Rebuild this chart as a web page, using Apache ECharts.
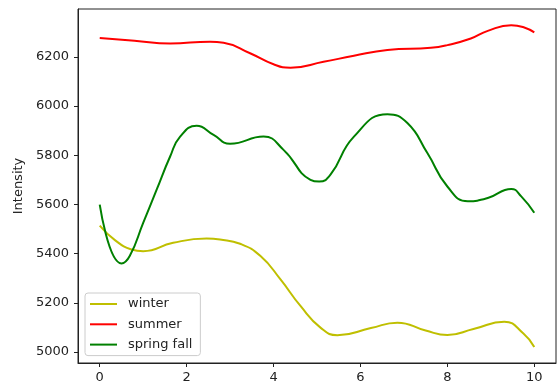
<!DOCTYPE html>
<html>
<head>
<meta charset="utf-8">
<script src="https://cdn.jsdelivr.net/npm/echarts@6/dist/echarts.min.js"></script>
<style>html,body{margin:0;padding:0;background:#fff;}#c{width:557px;height:390px;}</style>
</head>
<body>
<div id="c"></div>
<script>
const winterX = [0,0.35,0.73,1.0,1.69,2.46,2.77,3.23,3.7,4.16,4.62,5.08,5.47,6.24,6.85,7.5,8.0,8.6,9.31,9.75,10];
const winterY = [5514,5455,5417,5410,5444,5461,5457,5440,5390,5295,5187,5099,5068,5097,5119,5087,5069,5093,5123,5075,5020];
const summerX = [0,0.8,1.62,2.54,2.85,3.46,4.0,4.39,5.15,5.85,6.62,7.62,8.0,8.54,8.93,9.47,9.77,10];
const summerY = [6277,6266,6255,6262,6258,6215,6170,6156,6180,6205,6228,6237,6248,6275,6306,6329,6320,6300];
const springFallX = [0,0.5,0.69,1.0,1.31,1.62,1.85,2.23,2.62,3.0,3.77,4.23,4.85,5.05,5.31,5.85,6.62,7.08,7.54,8.0,8.47,8.93,9.47,9.7,10];
const springFallY = [5599,5360,5390,5525,5660,5795,5876,5920,5883,5847,5876,5822,5700,5693,5721,5876,5967,5931,5809,5673,5613,5626,5663,5633,5566];
const xTicks = [0,2,4,6,8,10];
const yTicks = [5000,5200,5400,5600,5800,6000,6200];
const seriesNames = ['winter','summer','spring fall'];
const colors = ['#bfbf00','#ff0000','#008000'];

const pair = (xs, ys) => xs.map((x,i)=>[x,ys[i]]);
const font = 'DejaVu Sans';
const chart = echarts.init(document.getElementById('c'), null, {renderer:'canvas'});
const mk = (name, data, color) => ({
  name, type:'line', data, smooth:0.5, showSymbol:false, symbol:'none',
  lineStyle:{color, width:2}, itemStyle:{color}, animation:false
});
chart.setOption({
  animation:false,
  grid:{left:78, right:1, top:9, bottom:27, show:true, borderColor:'#222', borderWidth:1, backgroundColor:'transparent'},
  xAxis:{type:'value', min:-0.5, max:10.5,
    axisLine:{show:true, onZero:false, lineStyle:{color:'#222'}},
    splitLine:{show:false},
    axisTick:{show:true, length:4, lineStyle:{color:'#222'}, customValues:xTicks},
    axisLabel:{color:'#222', fontFamily:font, fontSize:13, margin:8, customValues:xTicks, formatter:v=>String(v)}},
  yAxis:{type:'value', min:4955, max:6395, name:'Intensity', nameLocation:'middle', nameGap:44,
    nameTextStyle:{color:'#222', fontFamily:font, fontSize:13},
    axisLine:{show:true, onZero:false, lineStyle:{color:'#222'}},
    splitLine:{show:false},
    axisTick:{show:true, length:4, lineStyle:{color:'#222'}, customValues:yTicks},
    axisLabel:{color:'#222', fontFamily:font, fontSize:13, margin:9, customValues:yTicks, formatter:v=>String(v)}},
  legend:{orient:'vertical', left:85, top:293, data:seriesNames,
    icon:'rect', itemWidth:27, itemHeight:2, itemGap:6.3,
    padding:[4,8,4,5], backgroundColor:'rgba(255,255,255,0.8)', borderColor:'#ccc', borderWidth:1, borderRadius:3,
    textStyle:{color:'#222', fontFamily:font, fontSize:13, lineHeight:14, padding:[0,0,0,6]}},
  series:[
    mk(seriesNames[0], pair(winterX, winterY), colors[0]),
    mk(seriesNames[1], pair(summerX, summerY), colors[1]),
    mk(seriesNames[2], pair(springFallX, springFallY), colors[2])
  ]
});
</script>
</body>
</html>
